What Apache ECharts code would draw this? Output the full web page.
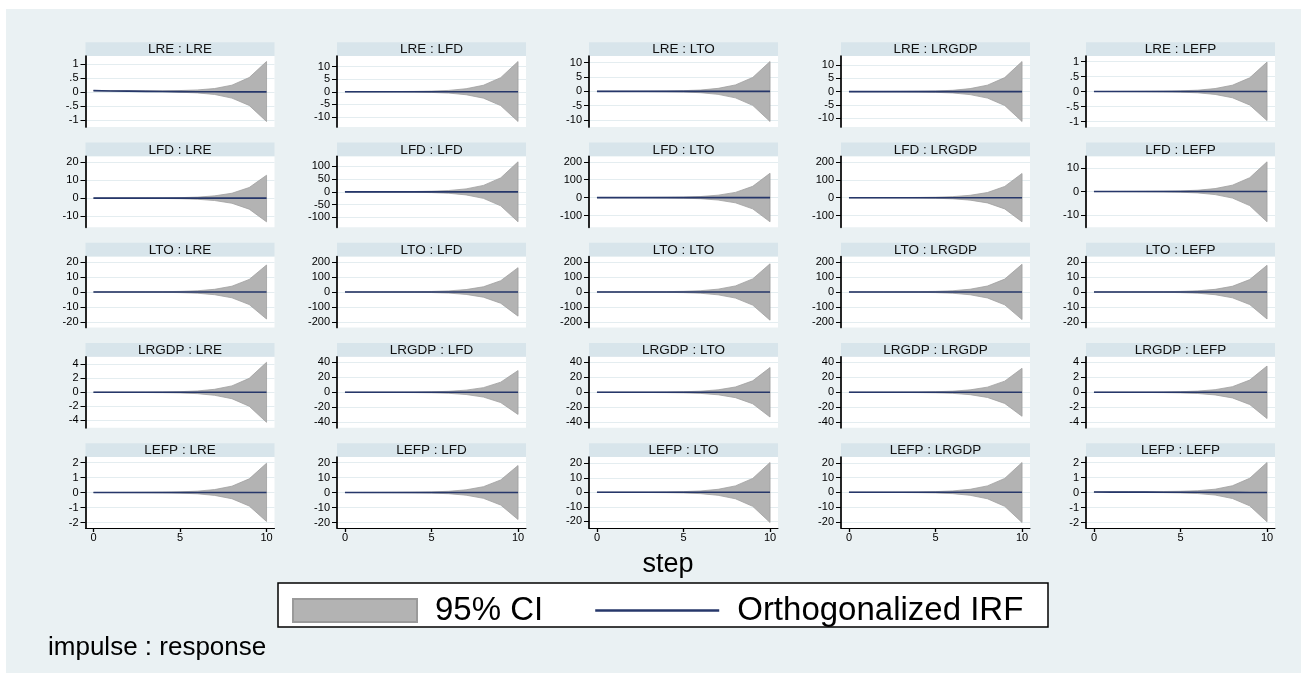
<!DOCTYPE html>
<html>
<head>
<meta charset="utf-8">
<script src="https://cdn.jsdelivr.net/npm/echarts@6/dist/echarts.min.js"></script>
<style>
html,body{margin:0;padding:0;background:#fff;}
#chart{width:1307px;height:681px;}
</style>
</head>
<body>
<div id="chart"></div>
<script>
// ---------------- DATA ----------------
const steps = [0, 1, 2, 3, 4, 5, 6, 7, 8, 9, 10];
const variables = ['LRE', 'LFD', 'LTO', 'LRGDP', 'LEFP'];   // impulse rows / response columns
const xTickValues = [0, 5, 10];

// y tick labels for each panel (row = impulse, entries = responses LRE, LFD, LTO, LRGDP, LEFP)
const ticksLRE   = [[-1, -0.5, 0, 0.5, 1], [-10, -5, 0, 5, 10], [-10, -5, 0, 5, 10], [-10, -5, 0, 5, 10], [-1, -0.5, 0, 0.5, 1]];
const ticksLFD   = [[-10, 0, 10, 20], [-100, -50, 0, 50, 100], [-100, 0, 100, 200], [-100, 0, 100, 200], [-10, 0, 10]];
const ticksLTO   = [[-20, -10, 0, 10, 20], [-200, -100, 0, 100, 200], [-200, -100, 0, 100, 200], [-200, -100, 0, 100, 200], [-20, -10, 0, 10, 20]];
const ticksLRGDP = [[-4, -2, 0, 2, 4], [-40, -20, 0, 20, 40], [-40, -20, 0, 20, 40], [-40, -20, 0, 20, 40], [-4, -2, 0, 2, 4]];
const ticksLEFP  = [[-2, -1, 0, 1, 2], [-20, -10, 0, 10, 20], [-20, -10, 0, 10, 20], [-20, -10, 0, 10, 20], [-2, -1, 0, 1, 2]];

// 95% CI upper bounds
const upperLRE = [
  [0.05, 0.046, 0.042, 0.04, 0.04, 0.048, 0.07, 0.12, 0.24, 0.51, 1.08],
  [0, 0.02, 0.05, 0.08, 0.14, 0.26, 0.54, 1.2, 2.58, 5.6, 12.0],
  [0, 0.02, 0.04, 0.07, 0.12, 0.23, 0.47, 1.04, 2.24, 4.84, 10.4],
  [0, 0.02, 0.05, 0.08, 0.14, 0.25, 0.51, 1.14, 2.45, 5.3, 11.4],
  [0, 0.002, 0.004, 0.007, 0.012, 0.022, 0.044, 0.098, 0.21, 0.456, 0.98]
];
const lowerLRE = [
  [0.04, 0.03, 0.022, 0.014, 0.005, -0.01, -0.035, -0.09, -0.22, -0.48, -1.05],
  [0, -0.02, -0.05, -0.08, -0.14, -0.26, -0.53, -1.18, -2.54, -5.5, -11.8],
  [0, -0.02, -0.04, -0.07, -0.13, -0.23, -0.47, -1.05, -2.26, -4.88, -10.5],
  [0, -0.02, -0.05, -0.08, -0.14, -0.25, -0.51, -1.13, -2.43, -5.25, -11.3],
  [0, -0.002, -0.004, -0.007, -0.012, -0.021, -0.044, -0.097, -0.209, -0.451, -0.97]
];
const irfLRE = [
  [0.045, 0.035, 0.027, 0.02, 0.014, 0.009, 0.006, 0.004, 0.002, 0.001, 0.0005],
  [0, 0.004, 0.006, 0.005, 0.004, 0.003, 0.002, 0.002, 0.001, 0.001, 0.001],
  [0, 0.003, 0.004, 0.004, 0.003, 0.003, 0.002, 0.001, 0.001, 0.001, 0],
  [0, 0.002, 0.003, 0.003, 0.003, 0.002, 0.002, 0.001, 0.001, 0.001, 0],
  [0, 0.001, 0.001, 0.001, 0.001, 0.001, 0.001, 0, 0, 0, 0]
];

const upperLFD = [
  [0, 0.03, 0.05, 0.09, 0.15, 0.28, 0.57, 1.26, 2.71, 5.86, 12.6],
  [0.3, 0.5, 0.7, 1.0, 1.6, 2.8, 5.5, 11.9, 25.5, 55, 118],
  [0, 0.27, 0.54, 0.95, 1.6, 3.0, 6.1, 13.6, 29.2, 63.2, 136],
  [0, 0.27, 0.54, 0.95, 1.6, 3.0, 6.1, 13.5, 29.0, 62.8, 135],
  [0, 0.03, 0.05, 0.09, 0.15, 0.28, 0.57, 1.26, 2.71, 5.86, 12.6]
];
const lowerLFD = [
  [0, -0.03, -0.05, -0.09, -0.16, -0.29, -0.59, -1.3, -2.8, -6.05, -13.0],
  [-0.2, -0.3, -0.5, -0.8, -1.4, -2.6, -5.3, -11.7, -25.2, -54.4, -117],
  [0, -0.27, -0.54, -0.95, -1.6, -3.0, -6.1, -13.5, -29.0, -62.8, -135],
  [0, -0.27, -0.54, -0.94, -1.6, -2.9, -6.0, -13.4, -28.8, -62.3, -134],
  [0, -0.03, -0.05, -0.09, -0.15, -0.28, -0.58, -1.28, -2.75, -5.95, -12.8]
];
const irfLFD = [
  [-0.004, -0.006, -0.005, -0.004, -0.003, -0.002, -0.002, -0.001, -0.001, 0, 0],
  [0.05, 0.06, 0.055, 0.05, 0.045, 0.04, 0.035, 0.03, 0.025, 0.02, 0.018],
  [0.01, 0.012, 0.011, 0.01, 0.009, 0.008, 0.007, 0.006, 0.005, 0.004, 0.004],
  [0.008, 0.01, 0.01, 0.009, 0.008, 0.007, 0.006, 0.005, 0.004, 0.004, 0.003],
  [0.002, 0.003, 0.003, 0.002, 0.002, 0.002, 0.001, 0.001, 0.001, 0.001, 0]
];

const upperLTO = [
  [0, 0.04, 0.07, 0.13, 0.22, 0.4, 0.81, 1.8, 3.87, 8.37, 18],
  [0, 0.3, 0.6, 1.1, 1.9, 3.6, 7.3, 16.2, 34.8, 75.3, 162],
  [0.5, 0.7, 1.0, 1.5, 2.5, 4.4, 8.7, 19, 40.5, 87.5, 188],
  [0, 0.4, 0.7, 1.3, 2.2, 4.1, 8.3, 18.5, 39.8, 86, 185],
  [0, 0.04, 0.07, 0.12, 0.21, 0.39, 0.8, 1.78, 3.83, 8.28, 17.8]
];
const lowerLTO = [
  [0, -0.04, -0.07, -0.13, -0.22, -0.4, -0.81, -1.8, -3.87, -8.37, -18],
  [0, -0.3, -0.6, -1.1, -1.9, -3.5, -7.2, -16.1, -34.6, -74.9, -161],
  [-0.3, -0.5, -0.8, -1.3, -2.3, -4.1, -8.4, -18.8, -40.4, -87.4, -188],
  [0, -0.4, -0.7, -1.3, -2.2, -4.0, -8.3, -18.4, -39.6, -85.6, -184],
  [0, -0.04, -0.07, -0.13, -0.22, -0.4, -0.81, -1.8, -3.87, -8.37, -18]
];
const irfLTO = [
  [0.003, 0.004, 0.004, 0.003, 0.003, 0.002, 0.002, 0.001, 0.001, 0.001, 0],
  [0.02, 0.025, 0.022, 0.02, 0.018, 0.015, 0.012, 0.01, 0.008, 0.007, 0.006],
  [0.08, 0.07, 0.065, 0.06, 0.05, 0.045, 0.04, 0.035, 0.03, 0.026, 0.022],
  [0.015, 0.018, 0.017, 0.015, 0.013, 0.011, 0.01, 0.008, 0.007, 0.006, 0.005],
  [0.002, 0.003, 0.003, 0.002, 0.002, 0.002, 0.001, 0.001, 0.001, 0, 0]
];

const upperLRGDP = [
  [0, 0.01, 0.02, 0.03, 0.05, 0.09, 0.19, 0.43, 0.92, 2.0, 4.3],
  [0, 0.06, 0.12, 0.2, 0.35, 0.64, 1.3, 2.9, 6.2, 13.5, 29],
  [0, 0.07, 0.13, 0.23, 0.4, 0.73, 1.49, 3.3, 7.1, 15.3, 33],
  [0.1, 0.15, 0.2, 0.28, 0.45, 0.78, 1.5, 3.25, 6.9, 14.9, 32],
  [0, 0.01, 0.01, 0.02, 0.04, 0.08, 0.16, 0.35, 0.75, 1.63, 3.5]
];
const lowerLRGDP = [
  [0, -0.01, -0.02, -0.03, -0.05, -0.09, -0.19, -0.43, -0.92, -2.0, -4.3],
  [0, -0.06, -0.12, -0.21, -0.35, -0.65, -1.33, -2.95, -6.34, -13.7, -29.5],
  [0, -0.07, -0.13, -0.23, -0.4, -0.73, -1.49, -3.3, -7.1, -15.3, -33],
  [-0.05, -0.08, -0.11, -0.2, -0.36, -0.68, -1.4, -3.15, -6.85, -14.85, -32],
  [0, -0.01, -0.01, -0.02, -0.04, -0.08, -0.16, -0.35, -0.75, -1.63, -3.5]
];
const irfLRGDP = [
  [0.001, 0.002, 0.002, 0.002, 0.001, 0.001, 0.001, 0.001, 0, 0, 0],
  [0.004, 0.006, 0.006, 0.005, 0.004, 0.004, 0.003, 0.003, 0.002, 0.002, 0.002],
  [0.005, 0.007, 0.006, 0.006, 0.005, 0.004, 0.004, 0.003, 0.003, 0.002, 0.002],
  [0.03, 0.028, 0.026, 0.024, 0.022, 0.02, 0.018, 0.016, 0.014, 0.012, 0.011],
  [0.001, 0.001, 0.001, 0.001, 0.001, 0.001, 0, 0, 0, 0, 0]
];

const upperLEFP = [
  [0, 0.004, 0.008, 0.014, 0.023, 0.043, 0.088, 0.195, 0.42, 0.91, 1.95],
  [0, 0.04, 0.07, 0.13, 0.22, 0.4, 0.81, 1.8, 3.87, 8.37, 18],
  [0, 0.04, 0.08, 0.14, 0.25, 0.45, 0.92, 2.05, 4.41, 9.53, 20.5],
  [0, 0.04, 0.08, 0.14, 0.24, 0.44, 0.91, 2.02, 4.34, 9.39, 20.2],
  [0.04, 0.045, 0.05, 0.055, 0.065, 0.08, 0.12, 0.22, 0.45, 0.95, 2.0]
];
const lowerLEFP = [
  [0, -0.004, -0.008, -0.014, -0.023, -0.042, -0.087, -0.193, -0.415, -0.9, -1.93],
  [0, -0.04, -0.07, -0.13, -0.22, -0.4, -0.81, -1.8, -3.87, -8.37, -18],
  [0, -0.04, -0.08, -0.15, -0.25, -0.46, -0.94, -2.08, -4.47, -9.67, -20.8],
  [0, -0.04, -0.08, -0.14, -0.25, -0.45, -0.92, -2.05, -4.41, -9.53, -20.5],
  [0.02, 0.015, 0.01, 0.0, -0.01, -0.03, -0.07, -0.17, -0.4, -0.89, -1.95]
];
const irfLEFP = [
  [0.001, 0.001, 0.001, 0.001, 0.001, 0.001, 0, 0, 0, 0, 0],
  [0.003, 0.004, 0.004, 0.003, 0.003, 0.002, 0.002, 0.002, 0.001, 0.001, 0.001],
  [0.003, 0.004, 0.004, 0.004, 0.003, 0.003, 0.002, 0.002, 0.001, 0.001, 0.001],
  [0.003, 0.004, 0.004, 0.003, 0.003, 0.002, 0.002, 0.002, 0.001, 0.001, 0.001],
  [0.03, 0.028, 0.025, 0.022, 0.018, 0.015, 0.012, 0.009, 0.007, 0.005, 0.004]
];

// ---------------- LAYOUT / STYLE ----------------
const FONT = '"Liberation Sans", Arial, Helvetica, sans-serif';
const BG = '#EAF1F3';
const STRIP = '#D8E5EB';
const GRIDLINE = '#E4EDF0';
const CI_FILL = '#B3B3B3';
const CI_EDGE = '#A0A0A0';
const NAVY = '#26376A';
const colLeft = [85.5, 337, 589, 841, 1086];
const stripTop = [42.3, 142.6, 242.8, 343.1, 443.3];
const STRIP_H = 13.7;
const PW = 189;
const PH = 71;
const PAD_FRAC = 5.5 / 60;
const TICK_FS = 11;

const rows = [
  {up: upperLRE, lo: lowerLRE, irf: irfLRE, ticks: ticksLRE},
  {up: upperLFD, lo: lowerLFD, irf: irfLFD, ticks: ticksLFD},
  {up: upperLTO, lo: lowerLTO, irf: irfLTO, ticks: ticksLTO},
  {up: upperLRGDP, lo: lowerLRGDP, irf: irfLRGDP, ticks: ticksLRGDP},
  {up: upperLEFP, lo: lowerLEFP, irf: irfLEFP, ticks: ticksLEFP}
];

function fmtTick(v) {
  return String(v).replace(/^(-?)0\./, '$1.');
}

function makeBand(hi, lo) {
  return function (params, api) {
    if (params.dataIndex !== 0) return null;
    const pts = [];
    for (let i = 0; i < steps.length; i++) pts.push(api.coord([steps[i], hi[i]]));
    for (let i = steps.length - 1; i >= 0; i--) pts.push(api.coord([steps[i], lo[i]]));
    return {
      type: 'polygon',
      shape: {points: pts},
      style: {fill: CI_FILL, stroke: CI_EDGE, lineWidth: 0.8}
    };
  };
}

const grids = [], xAxes = [], yAxes = [], series = [];
const graphics = [
  {type: 'rect', shape: {x: 6, y: 9, width: 1295, height: 664}, style: {fill: BG}, z: -100, silent: true}
];

rows.forEach(function (row, r) {
  variables.forEach(function (resp, c) {
    const idx = r * 5 + c;
    const hi = row.up[c], lo = row.lo[c], irf = row.irf[c], ticks = row.ticks[c];
    const top = stripTop[r] + STRIP_H;
    grids.push({left: colLeft[c], top: top, width: PW, height: PH, show: true,
      backgroundColor: '#FFFFFF', borderWidth: 0});
    const dMax = Math.max(Math.max.apply(null, hi), ticks[ticks.length - 1]);
    const dMin = Math.min(Math.min.apply(null, lo), ticks[0]);
    const pad = (dMax - dMin) * PAD_FRAC;
    const last = (r === 4);
    xAxes.push({
      gridIndex: idx, type: 'value', min: -0.46, max: 10.46, show: last,
      axisLine: {show: last, onZero: false, lineStyle: {color: '#000', width: 1}},
      axisTick: {show: last, length: 4, customValues: xTickValues, lineStyle: {color: '#000', width: 1.3}},
      axisLabel: {show: last, customValues: xTickValues, margin: 4, fontSize: TICK_FS, color: '#000', fontFamily: FONT},
      splitLine: {show: false}
    });
    yAxes.push({
      gridIndex: idx, type: 'value', min: dMin - pad, max: dMax + pad,
      axisLine: {show: true, onZero: false, lineStyle: {color: '#000', width: 1.7}},
      axisTick: {show: true, length: 5, customValues: ticks, lineStyle: {color: '#000', width: 1}},
      axisLabel: {customValues: ticks, margin: 7, fontSize: TICK_FS, color: '#000', fontFamily: FONT, formatter: fmtTick},
      splitLine: {show: true, lineStyle: {color: GRIDLINE, width: 1}}
    });
    series.push({
      type: 'custom', name: '95% CI', xAxisIndex: idx, yAxisIndex: idx,
      data: steps.map(function (s, i) { return [s, lo[i], hi[i]]; }),
      encode: {x: 0, y: [1, 2]},
      renderItem: makeBand(hi, lo), silent: true, z: 2,
      itemStyle: {color: CI_FILL}
    });
    series.push({
      type: 'line', name: 'Orthogonalized IRF', xAxisIndex: idx, yAxisIndex: idx,
      data: steps.map(function (s, i) { return [s, irf[i]]; }),
      symbol: 'none', showSymbol: false, silent: true, z: 3,
      lineStyle: {color: NAVY, width: 1.6}, itemStyle: {color: NAVY}
    });
    graphics.push({type: 'rect', shape: {x: colLeft[c], y: stripTop[r], width: PW, height: STRIP_H},
      style: {fill: STRIP}, silent: true});
    graphics.push({type: 'text', x: colLeft[c] + PW / 2, y: stripTop[r] + STRIP_H / 2 + 0.5,
      style: {text: variables[r] + ' : ' + resp, font: '13.5px ' + FONT, fill: '#111',
        textAlign: 'center', textVerticalAlign: 'middle'}, silent: true});
  });
});

// axis title, legend box, note
graphics.push({type: 'text', x: 668, y: 565,
  style: {text: 'step', font: '27px ' + FONT, fill: '#000', textAlign: 'center', textVerticalAlign: 'middle'}, silent: true});
graphics.push({type: 'rect', shape: {x: 278, y: 583, width: 770, height: 44},
  style: {fill: '#FFFFFF', stroke: '#000', lineWidth: 1.5}, silent: true, z: 1});
graphics.push({type: 'text', x: 48, y: 648,
  style: {text: 'impulse : response', font: '26px ' + FONT, fill: '#000', textAlign: 'left', textVerticalAlign: 'middle'}, silent: true});

const chart = echarts.init(document.getElementById('chart'), null, {renderer: 'canvas'});
chart.setOption({
  animation: false,
  backgroundColor: '#FFFFFF',
  grid: grids,
  xAxis: xAxes,
  yAxis: yAxes,
  series: series,
  graphic: graphics,
  legend: {
    left: 292, top: 594, padding: 0, orient: 'horizontal',
    itemWidth: 124, itemHeight: 23, itemGap: 52, selectedMode: false, z: 10,
    textStyle: {fontSize: 33, color: '#000', fontFamily: FONT, padding: [0, 0, 0, 13]},
    data: [
      {name: '95% CI', icon: 'rect', itemStyle: {color: CI_FILL, borderColor: '#9A9A9A', borderWidth: 2}},
      {name: 'Orthogonalized IRF', icon: 'path://M0,0L100,0L100,2.2L0,2.2Z', itemStyle: {color: NAVY, borderWidth: 0}}
    ]
  }
});
</script>
</body>
</html>
